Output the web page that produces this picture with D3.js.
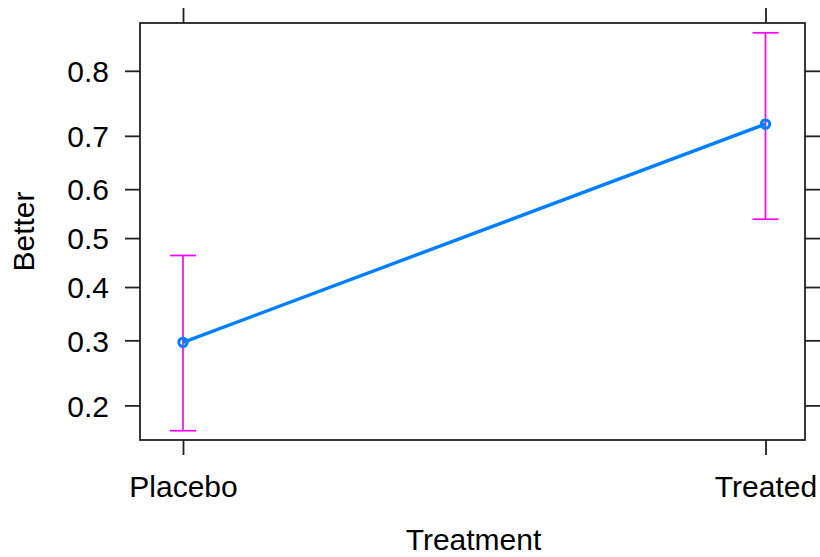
<!DOCTYPE html>
<html>
<head>
<meta charset="utf-8">
<script src="https://cdn.jsdelivr.net/npm/d3@7"></script>
<style>
  html, body { margin: 0; padding: 0; background: #fff; }
  svg { display: block; }
  text { font-family: "Liberation Sans", Arial, sans-serif; fill: #000; }
</style>
</head>
<body>
<svg id="chart" width="820" height="557"></svg>
<script>
// Fitted probabilities of a "Better" outcome by treatment group, with confidence limits
const categories = ["Placebo", "Treated"];
const fitValues = [0.2965, 0.720];
const lowerValues = [0.1685, 0.539];
const upperValues = [0.464, 0.8457];
const yTickValues = [0.2, 0.3, 0.4, 0.5, 0.6, 0.7, 0.8];
const yLimits = [0.158, 0.856];
const xTitle = "Treatment";
const yTitle = "Better";

const panel = { left: 140, right: 805, top: 23, bottom: 440 };
const tickLen = 15;
const fontSize = 30;

const svg = d3.select("#chart");

const logit = p => Math.log(p / (1 - p));

// categorical positions inset from the panel edges
const x = d3.scalePoint()
  .domain(categories)
  .range([panel.left + 43, panel.right - 39.5]);

// response axis on the logit scale, labelled in probabilities
const yLin = d3.scaleLinear()
  .domain(yLimits.map(logit))
  .range([panel.bottom, panel.top]);
const y = p => yLin(logit(p));

const axisColor = "#222";
const axisWidth = 1.8;

// panel frame
svg.append("rect")
  .attr("x", panel.left).attr("y", panel.top)
  .attr("width", panel.right - panel.left)
  .attr("height", panel.bottom - panel.top)
  .attr("fill", "none")
  .attr("stroke", axisColor)
  .attr("stroke-width", axisWidth);

// left axis with labels
const yAxisL = d3.axisLeft(yLin)
  .tickValues(yTickValues.map(logit))
  .tickFormat((d, i) => d3.format(".1f")(yTickValues[i]))
  .tickSizeOuter(0)
  .tickSize(tickLen)
  .tickPadding(16);
const gL = svg.append("g").attr("transform", `translate(${panel.left},0)`).call(yAxisL);

// right axis, ticks only
const yAxisR = d3.axisRight(yLin)
  .tickValues(yTickValues.map(logit))
  .tickFormat("")
  .tickSizeOuter(0)
  .tickSize(tickLen);
const gR = svg.append("g").attr("transform", `translate(${panel.right},0)`).call(yAxisR);

// bottom axis with labels
const xAxisB = d3.axisBottom(x)
  .tickSizeOuter(0)
  .tickSize(tickLen)
  .tickPadding(14);
const gB = svg.append("g").attr("transform", `translate(0,${panel.bottom})`).call(xAxisB);

// top axis, ticks only
const xAxisT = d3.axisTop(x)
  .tickFormat("")
  .tickSizeOuter(0)
  .tickSize(tickLen);
const gT = svg.append("g").attr("transform", `translate(0,${panel.top})`).call(xAxisT);

[gL, gR, gB, gT].forEach(g => {
  g.select(".domain").remove();
  g.selectAll(".tick line").attr("stroke", axisColor).attr("stroke-width", axisWidth);
  g.selectAll(".tick text")
    .style("font-family", '"Liberation Sans", Arial, sans-serif')
    .style("font-size", fontSize + "px")
    .attr("fill", "#000");
});
gL.selectAll(".tick text").attr("dy", "0.36em");
gB.selectAll(".tick text").attr("dy", "0.93em");

// axis titles
svg.append("text")
  .attr("x", (panel.left + panel.right) / 2 + 1)
  .attr("y", 550)
  .attr("text-anchor", "middle")
  .style("font-size", fontSize + "px")
  .text(xTitle);

svg.append("text")
  .attr("transform", `translate(34,${(panel.top + panel.bottom) / 2}) rotate(-90)`)
  .attr("text-anchor", "middle")
  .style("font-size", fontSize + "px")
  .text(yTitle);

// confidence interval bars
const capHalf = 13;
const ci = svg.append("g").attr("stroke", "#ff00ff").attr("stroke-width", 1.7).attr("fill", "none");
categories.forEach((c, i) => {
  const cx = x(c);
  ci.append("line").attr("x1", cx).attr("x2", cx)
    .attr("y1", y(lowerValues[i])).attr("y2", y(upperValues[i]));
  ci.append("line").attr("x1", cx - capHalf).attr("x2", cx + capHalf)
    .attr("y1", y(lowerValues[i])).attr("y2", y(lowerValues[i]));
  ci.append("line").attr("x1", cx - capHalf).attr("x2", cx + capHalf)
    .attr("y1", y(upperValues[i])).attr("y2", y(upperValues[i]));
});

// fitted effect line and points
const pts = categories.map((c, i) => [x(c), y(fitValues[i])]);
svg.append("path")
  .attr("d", d3.line()(pts))
  .attr("fill", "none")
  .attr("stroke", "#0080ff")
  .attr("stroke-width", 3.4);

svg.selectAll("circle.pt")
  .data(pts)
  .join("circle")
  .attr("class", "pt")
  .attr("cx", d => d[0]).attr("cy", d => d[1])
  .attr("r", 4.2)
  .attr("fill", "none")
  .attr("stroke", "#0080ff")
  .attr("stroke-width", 3);
</script>
</body>
</html>
